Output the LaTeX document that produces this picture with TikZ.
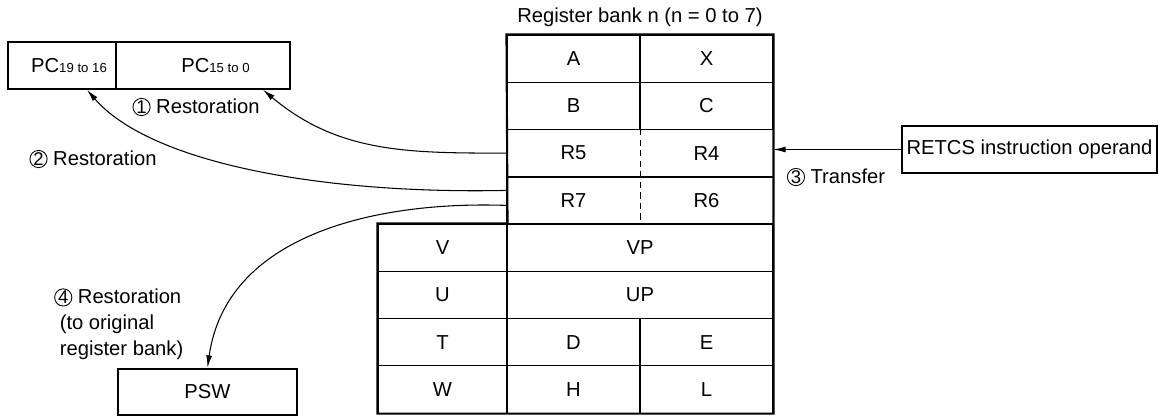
\documentclass[tikz,border=0pt]{standalone}
\usepackage{fontspec}
\setmainfont{Liberation Sans}
\usepackage{tikz}
\usetikzlibrary{arrows.meta}

\newcommand{\circnum}[1]{\tikz[baseline=(cn.base)]\node[draw, circle, line width=0.5pt, inner sep=0pt, minimum size=9.8pt, font=\fontsize{10.5}{11}\selectfont] (cn) {#1};}
\newcommand{\sub}[1]{{\fontsize{7.5}{9}\selectfont #1}}

\begin{document}
\begin{tikzpicture}[x=0.02cm, y=-0.02cm, font=\fontsize{11.5}{14.7}\selectfont]

  \tikzset{cell/.style = {draw, line width=0.6pt, minimum width=2.66cm, minimum height=0.945cm, inner sep=0pt}}
  \tikzset{half/.style = {minimum width=2.66cm, minimum height=0.945cm, inner sep=0pt}}
  \tikzset{wcell/.style = {cell, minimum width=5.32cm}}
  \tikzset{ncell/.style = {cell, minimum width=2.58cm}}
  \tikzset{box/.style = {draw, line width=1.2pt, minimum height=0.93cm, inner sep=0pt}}
  \tikzset{edge/.style = {-{Latex[length=7pt,width=3.4pt]}, line width=0.6pt}}

  \useasboundingbox (0,0) rectangle (1159,416);

  % title
  \node (title) at (640,17) {Register bank n (n = 0 to 7)};

  % register bank, upper part
  \node[cell] (a)  at (573.5,58.6)  {A};
  \node[cell] (x)  at (706.5,58.6)  {X};
  \node[cell] (b)  at (573.5,105.9) {B};
  \node[cell] (c)  at (706.5,105.9) {C};
  \node[half] (r5) at (573.5,153.1) {R5};
  \node[half] (r4) at (706.5,153.1) {R4};
  \node[half] (r7) at (573.5,200.4) {R7};
  \node[half] (r6) at (706.5,200.4) {R6};
  \draw[line width=0.6pt] (r5.north west) rectangle (r4.south east);
  \draw[line width=0.6pt] (r7.north west) rectangle (r6.south east);
  \draw[line width=0.6pt, dash pattern=on 3.5pt off 2.5pt] (r5.north east) -- (r7.south east);

  % register bank, lower part
  \node[ncell] (v)  at (442.5,247.6) {V};
  \node[wcell] (vp) at (640,247.6)   {VP};
  \node[ncell] (u)  at (442.5,294.9) {U};
  \node[wcell] (up) at (640,294.9)   {UP};
  \node[ncell] (t)  at (442.5,342.1) {T};
  \node[cell]  (d)  at (573.5,342.1) {D};
  \node[cell]  (e)  at (706.5,342.1) {E};
  \node[ncell] (w)  at (442.5,389.4) {W};
  \node[cell]  (h)  at (573.5,389.4) {H};
  \node[cell]  (l)  at (706.5,389.4) {L};

  % outline
  \draw[line width=1.2pt] (a.north west) -- (x.north east) -- (l.south east)
    -- (w.south west) -- (v.north west) -- (v.north east) -- cycle;

  % other boxes
  \node[box, minimum width=2.16cm] (pc1) at (62,65.5) {\hspace*{0.28cm}PC\sub{19 to 16}};
  \node[box, minimum width=3.48cm] (pc2) at (203,65.5) {\hspace*{0.5cm}PC\sub{15 to 0}};
  \node[box, minimum width=3.58cm] (psw) at (207.5,392) {PSW};
  \node[box, minimum width=5.1cm] (retcs) at (1029.5,149.5) {RETCS instruction operand};

  % labels
  \node (lab1) at (196,107) {\circnum{1} Restoration};
  \node (lab2) at (93,159) {\circnum{2} Restoration};
  \node (lab3) at (836,177) {\circnum{3} Transfer};
  \node[anchor=west, align=left] (lab4) at (48,324)
    {\circnum{4} Restoration\\\ (to original\\\ register bank)};

  % edges
  \draw[edge] (r5.west) to[out=180, in=-40] ([xshift=1.2cm]pc2.south);
  \draw[edge] ([yshift=0.2cm]r7.west) .. controls +(-186,4) and +(63,73) .. ([xshift=0.5cm]pc1.south);
  \draw[edge] (retcs.west) -- (retcs.west -| r4.east);
  \draw[edge] ([yshift=-0.1cm]r7.west) to[out=178, in=82] (psw.north);
\end{tikzpicture}
\end{document}
